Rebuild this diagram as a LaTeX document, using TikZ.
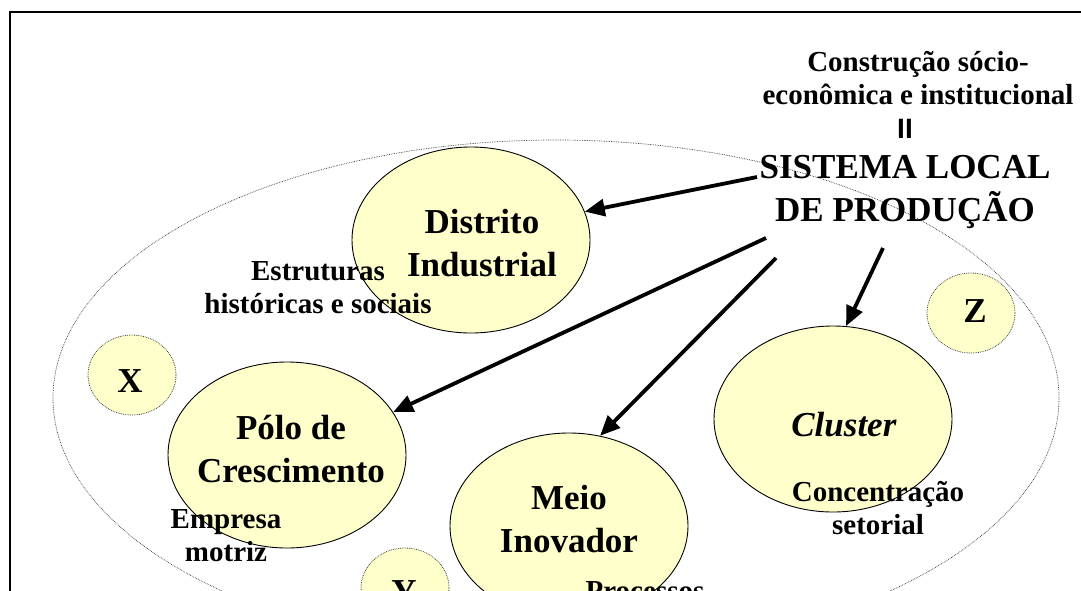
\documentclass[tikz,border=0pt]{standalone}
\usepackage{fontspec}
\setmainfont{Liberation Serif}
\newfontfamily\barfont{Liberation Sans}
\usepackage{tikz}
\usetikzlibrary{arrows.meta}
\usetikzlibrary{positioning}
\usetikzlibrary{shapes.geometric}
\definecolor{paleyellow}{HTML}{FFFFCC}

\begin{document}
\begin{tikzpicture}
  [
    x = 1pt, y = -1pt,
    bubble/.style = {ellipse, draw, fill=paleyellow, inner sep = 0pt, align = center},
    concept/.style = {bubble, line width = 0.9pt, minimum width = 238pt, minimum height = 186pt},
    other/.style = {bubble, densely dotted, line width = 0.8pt, draw = black!75, minimum width = 88pt,
                    minimum height = 80pt},
    bigtext/.style = {font = \bfseries\fontsize{35}{43}\selectfont, align = center, inner sep = 0pt},
    smalltext/.style = {font = \bfseries\fontsize{29}{33}\selectfont, align = center, inner sep = 0pt},
    arrow/.style = {-{Triangle[length = 20pt, width = 17pt]}, line width = 3.8pt},
  ]

  \useasboundingbox (0,0) rectangle (1081,590);
  \clip (0,0) rectangle (1081,590);

  % frame and local area
  \draw[line width = 1.5pt] (10,12) rectangle (1120,640);
  \node[ellipse, draw = black!80, densely dotted, line width = 0.7pt, minimum width = 1006pt,
        minimum height = 516pt, inner sep = 0pt] (area) at (556,398) {};

  % title
  \node[smalltext] (construcao) at (918,78) {Construção sócio-\\econômica e institucional};
  \node[font = \barfont\bfseries\fontsize{28}{28}\selectfont, inner sep = 0pt]
    (equiv) at (905,129) {II};
  \node[bigtext] (sistema) at (905,192) {SISTEMA LOCAL\\DE PRODUÇÃO};

  % concepts
  \node[concept] (distrito) at (471,240) {};
  \node[concept] (polo) at (287,455) {};
  \node[concept] (meio) at (569,526) {};
  \node[concept] (cluster) at (833,419) {};

  \node[bigtext] (distritoText) at (482,243) {Distrito\\Industrial};
  \node[bigtext] (poloText) at (291,449) {Pólo de\\Crescimento};
  \node[bigtext] (meioText) at (569,519) {Meio\\Inovador};
  \node[bigtext] (clusterText) at (844,425) {\textit{Cluster}};

  \node[other] (x) at (132,375) {};
  \node[other] (z) at (971,313) {};
  \node[other] (y) at (405,588) {};

  \node[bigtext] (xText) at (130,381) {X};
  \node[bigtext] (zText) at (975,311) {Z};
  \node[bigtext] (yText) at (404,592) {Y};

  % attributes
  \node[smalltext] (estruturas) at (318,288) {Estruturas\\históricas e sociais};
  \node[smalltext] (empresa) at (226,536) {Empresa\\motriz};
  \node[smalltext] (concentracao) at (878,508) {Concentração\\setorial};
  \node[smalltext] (processos) at (645,591) {Processos};

  % arrows from the local system
  \coordinate (fromDistrito) at (757,177);
  \coordinate (fromPolo) at (766,238);
  \coordinate (fromMeio) at (776,258);
  \coordinate (fromCluster) at (883,248);

  \draw[arrow] (fromDistrito) -- (distrito.14);
  \draw[arrow] (fromPolo) -- (polo.22);
  \draw[arrow] (fromMeio) -- (meio.71);
  \draw[arrow] (fromCluster) -- (cluster.82);

\end{tikzpicture}
\end{document}
